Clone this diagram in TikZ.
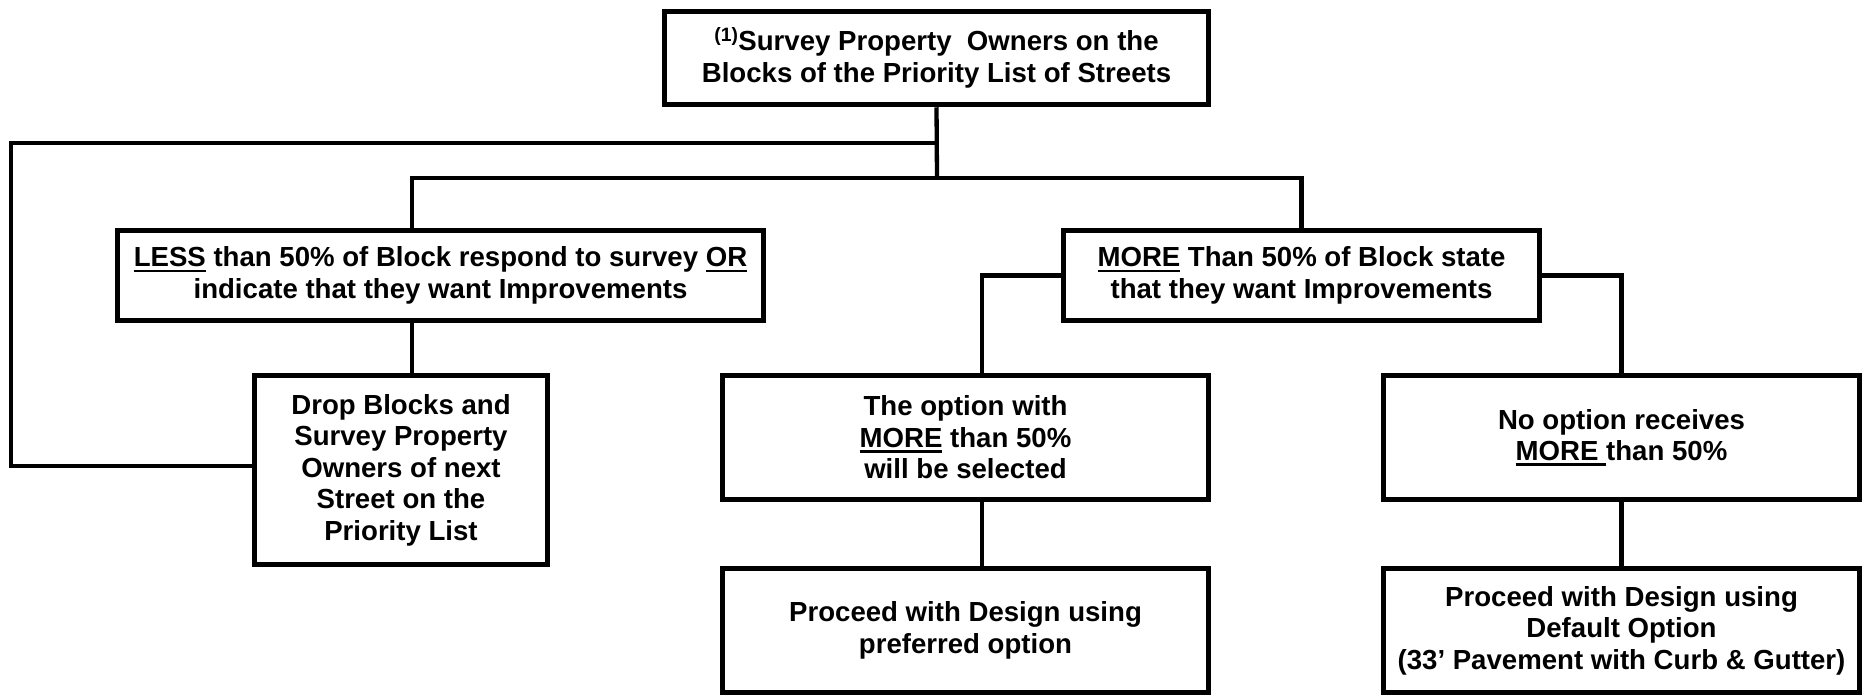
\documentclass[tikz,border=0pt]{standalone}
\usepackage{fontspec}
\setmainfont{Liberation Sans}
\usetikzlibrary{positioning}

% underlined word with a heavy rule
\newcommand{\undl}[1]{\leavevmode\setbox0\hbox{#1}\rlap{\rule[-5.5pt]{\wd0}{2.6pt}}\box0\relax}

\begin{document}
\begin{tikzpicture}[
  x=1pt, y=-1pt,
  box/.style={draw, rectangle, line width=5.5pt, inner sep=0pt, align=center, font=\fontsize{27.6}{31.5}\selectfont\bfseries},
  link/.style={line width=4.3pt}
]
\useasboundingbox (0,0) rectangle (1870,697);

% Nodes (top and first split)
\node[box, minimum width=544pt, minimum height=93pt] at (936.5,58) (survey) {\textsuperscript{(1)}Survey Property\ \ Owners on the\\Blocks of the Priority List of Streets};
\node[box, minimum width=646pt, minimum height=90pt] at (440.5,275.5) (less) {\undl{LESS} than 50\% of Block respond to survey \undl{OR}\\indicate that they want Improvements};
\node[box, minimum width=476pt, minimum height=90pt, right=294.5pt of less] (more) {\undl{MORE} Than 50\% of Block state\\that they want Improvements};

% Nodes (outcomes)
\node[box, minimum width=293pt, minimum height=189pt] at (401,470) (drop) {Drop Blocks and\\Survey Property\\Owners of next\\Street on the\\Priority List};
\node[box, minimum width=486pt, minimum height=124pt] at (965.5,437.5) (opt) {The option with\\\undl{MORE} than 50\%\\will be selected};
\node[box, minimum width=476pt, minimum height=124pt, right=169.5pt of opt] (noopt) {No option receives\\\undl{MORE\ }than 50\%};
\node[box, minimum width=486pt, minimum height=124pt, below=63.5pt of opt] (pref) {Proceed with Design using\\preferred option};
\node[box, minimum width=476pt, minimum height=124pt, below=63.5pt of noopt] (default) {Proceed with Design using\\Default Option\\(33’ Pavement with Curb \& Gutter)};

% Junctions
\coordinate (back) at (937,143);
\coordinate (hub) at (937,178);
\coordinate (loopcorner) at (11,466);

% Lines - tree
\draw[link] (survey.south) -- (hub);
\draw[link] (hub) -| ([xshift=-28.5pt]less.north);
\draw[link] (hub) -| (more.north);
\draw[link] ([xshift=-28.5pt]less.south) -- ([xshift=-28.5pt]less.south |- drop.north);
\draw[link] (more.west) -| ([xshift=16.5pt]opt.north);
\draw[link] (more.east) -| (noopt.north);
\draw[link] ([xshift=16.5pt]opt.south) -- ([xshift=16.5pt]pref.north);
\draw[link] (noopt.south) -- (default.north);

% Loop back to next street
\draw[link] (back) -| (loopcorner) -- (loopcorner -| drop.west);

\end{tikzpicture}
\end{document}
